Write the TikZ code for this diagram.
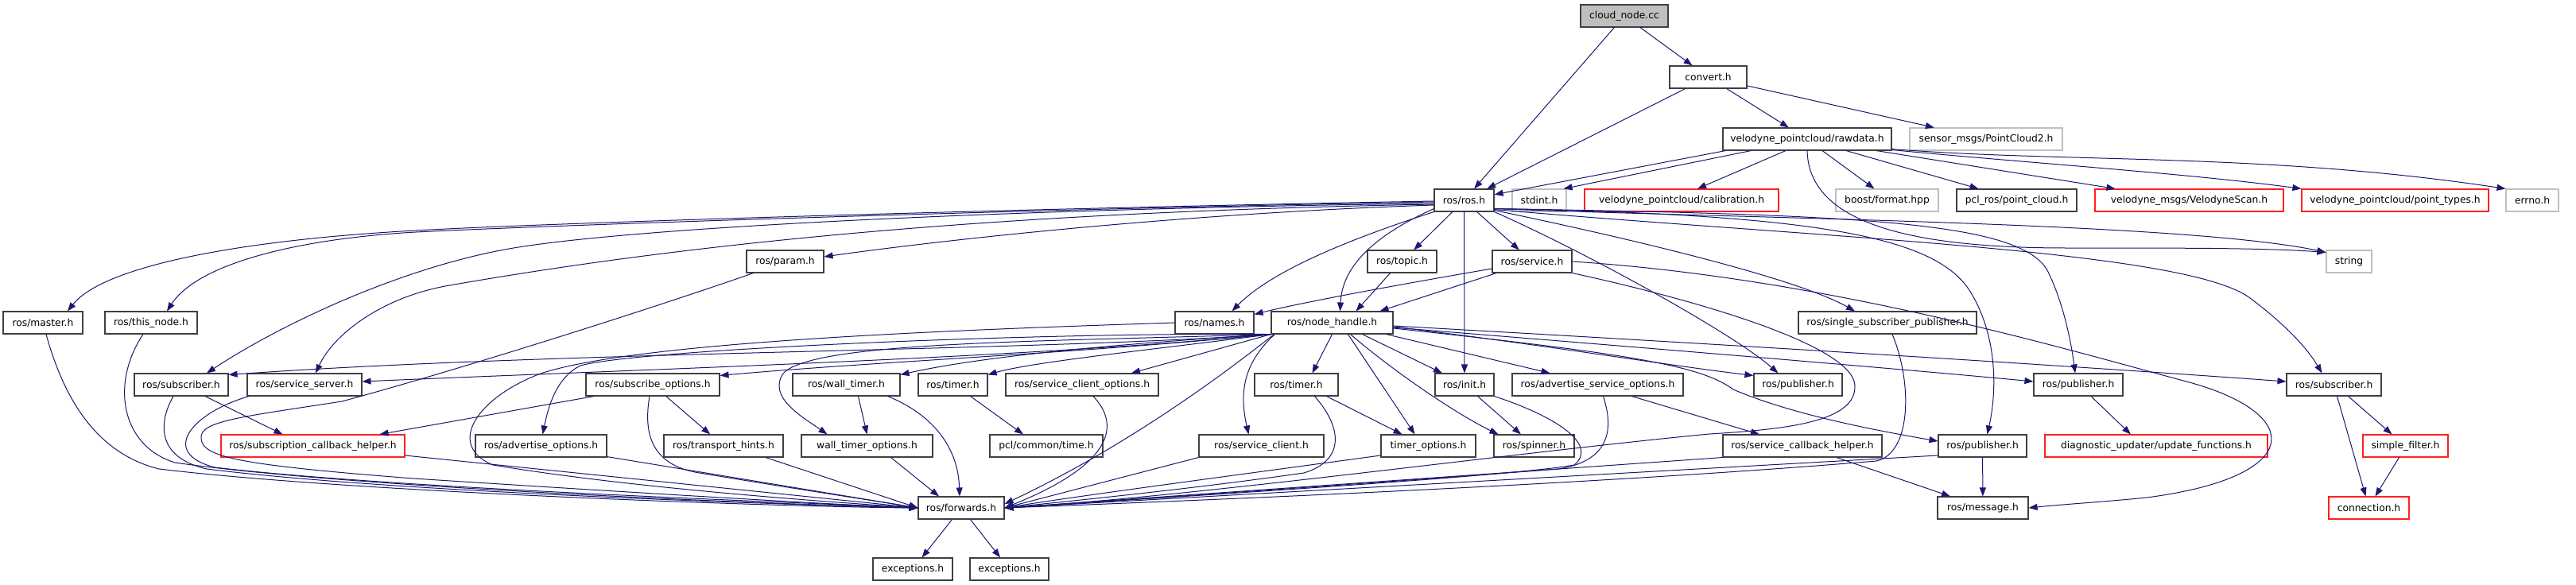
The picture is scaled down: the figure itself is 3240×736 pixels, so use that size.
\documentclass[tikz,border=0pt]{standalone}
\usepackage{fontspec}
\setmainfont{DejaVu Sans}
\usetikzlibrary{arrows.meta,calc}
\definecolor{edgec}{HTML}{191970}
\definecolor{bordk}{HTML}{404040}
\definecolor{bordg}{HTML}{BFBFBF}
\definecolor{bordr}{HTML}{FF2020}
\newcommand{\nodefnt}{\fontsize{12.3}{14}\selectfont}
\tikzset{
  box/.style={draw=bordk, line width=1.1pt, minimum height=28pt, inner sep=0pt, font=\nodefnt, fill=white},
  gbox/.style={box, draw=bordg},
  rbox/.style={box, draw=bordr},
  e/.style={draw=edgec, line width=1pt, -{Triangle[length=11pt,width=8pt]}}
}
\begin{document}
\begin{tikzpicture}[x=1pt,y=-1pt]
\useasboundingbox[fill=white] (0,0) rectangle (3240,736);
% row 0
\node[box, fill=bordg, minimum width=110] (cloud) at (2043,20) {cloud\_node.cc};
% row 1
\node[box, minimum width=97] (convert) at (2148.5,97) {convert.h};
% row 2
\node[box, minimum width=212] (rawdata) at (2273,175) {velodyne\_pointcloud/rawdata.h};
\node[gbox, minimum width=192] (pc2) at (2498,175) {sensor\_msgs/PointCloud2.h};
% row 3
\node[box, minimum width=75] (rosh) at (1841.5,252) {ros/ros.h};
\node[gbox, minimum width=68] (stdint) at (1936,252) {stdint.h};
\node[rbox, minimum width=244] (calib) at (2115,252) {velodyne\_pointcloud/calibration.h};
\node[gbox, minimum width=129] (boost) at (2373.5,252) {boost/format.hpp};
\node[box, minimum width=151] (pclros) at (2536.5,252) {pcl\_ros/point\_cloud.h};
\node[rbox, minimum width=237] (vscan) at (2753.5,252) {velodyne\_msgs/VelodyneScan.h};
\node[rbox, minimum width=235] (ptypes) at (3012.5,252) {velodyne\_pointcloud/point\_types.h};
\node[gbox, minimum width=66] (errno) at (3185,252) {errno.h};
% row 4
\node[box, minimum width=97] (param) at (987.5,329) {ros/param.h};
\node[box, minimum width=87] (topic) at (1763.5,329) {ros/topic.h};
\node[box, minimum width=100] (service) at (1927,329) {ros/service.h};
\node[gbox, minimum width=57] (string) at (2954.5,329) {string};
% row 5
\node[box, minimum width=100] (master) at (54,406) {ros/master.h};
\node[box, minimum width=116] (thisnode) at (190,406) {ros/this\_node.h};
\node[box, minimum width=99] (names) at (1527.5,406) {ros/names.h};
\node[box, minimum width=153] (nh) at (1675.5,406) {ros/node\_handle.h};
\node[box, minimum width=224] (ssp) at (2374,406) {ros/single\_subscriber\_publisher.h};
% row 6
\node[box, minimum width=118] (subL) at (228,484) {ros/subscriber.h};
\node[box, minimum width=144] (srvsrv) at (383,484) {ros/service\_server.h};
\node[box, minimum width=168] (subopt) at (821,484) {ros/subscribe\_options.h};
\node[box, minimum width=135] (wtimer) at (1064.5,484) {ros/wall\_timer.h};
\node[box, minimum width=87] (timerA) at (1198.5,484) {ros/timer.h};
\node[box, minimum width=192] (sco) at (1361,484) {ros/service\_client\_options.h};
\node[box, minimum width=105] (timerB) at (1630.5,484) {ros/timer.h};
\node[box, minimum width=74] (init) at (1842,484) {ros/init.h};
\node[box, minimum width=215] (aso) at (2009.5,484) {ros/advertise\_service\_options.h};
\node[box, minimum width=111] (pubA) at (2261.5,484) {ros/publisher.h};
\node[box, minimum width=112] (pubB) at (2614,484) {ros/publisher.h};
\node[box, minimum width=119] (subR) at (2935.5,484) {ros/subscriber.h};
% row 7
\node[rbox, minimum width=231] (scbh) at (393.5,561) {ros/subscription\_callback\_helper.h};
\node[box, minimum width=165] (advopt) at (680.5,561) {ros/advertise\_options.h};
\node[box, minimum width=150] (thints) at (910,561) {ros/transport\_hints.h};
\node[box, minimum width=165] (wto) at (1090.5,561) {wall\_timer\_options.h};
\node[box, minimum width=142] (pcltime) at (1316,561) {pcl/common/time.h};
\node[box, minimum width=157] (sclient) at (1586.5,561) {ros/service\_client.h};
\node[box, minimum width=119] (topts) at (1796.5,561) {timer\_options.h};
\node[box, minimum width=101] (spinner) at (1929.5,561) {ros/spinner.h};
\node[box, minimum width=200] (srvcbh) at (2267,561) {ros/service\_callback\_helper.h};
\node[box, minimum width=111] (pubC) at (2493.5,561) {ros/publisher.h};
\node[rbox, minimum width=280] (diag) at (2712,561) {diagnostic\_updater/update\_functions.h};
\node[rbox, minimum width=107] (sfilter) at (3025.5,561) {simple\_filter.h};
% row 8
\node[box, minimum width=108] (fwd) at (1209,639) {ros/forwards.h};
\node[box, minimum width=114] (msg) at (2494,639) {ros/message.h};
\node[rbox, minimum width=101] (conn) at (2979.5,639) {connection.h};
% row 9
\node[box, minimum width=100] (exc1) at (1148,716) {exceptions.h};
\node[box, minimum width=99] (exc2) at (1269.5,716) {exceptions.h};

% ---- edges ----
\draw[e] (cloud) -- (convert);
\draw[e] (cloud) -- (rosh);
\draw[e] (convert) -- (rosh);
\draw[e] (convert) -- (rawdata);
\draw[e] (convert) -- (pc2);
% rawdata
\draw[e] ([xshift=4pt]rawdata.south west) -- (rosh);
\draw[e] ([xshift=36pt]rawdata.south west) -- ([xshift=-4pt]stdint.north east);
\draw[e] ([xshift=-27pt]rawdata.south) -- ([xshift=20pt]calib.north);
\draw[e] ([xshift=19pt]rawdata.south) -- ([xshift=-16pt]boost.north);
\draw[e] ([xshift=49pt]rawdata.south) -- ([xshift=-48pt]pclros.north);
\draw[e] ([xshift=87pt]rawdata.south) -- ([xshift=-93pt]vscan.north);
\draw[e] ([yshift=1pt]rawdata.south east) .. controls (2550,205) and (2750,218) .. (ptypes.north west);
\draw[e] ([yshift=2pt]rawdata.south east) .. controls (2600,205) and (2850,192) .. (errno.north west);
\draw[e] (rawdata.south) .. controls (2275,280) and (2400,312) .. (2600,312) .. controls (2750,312) and (2850,312) .. ([yshift=-3pt]string.north west);
% ros.h left
\draw[e] ([yshift=-1pt]rosh.west) .. controls (1300,262) and (700,280) .. (523,290) .. controls (300,302) and (130,335) .. ([xshift=31pt]master.north);
\draw[e] ([yshift=-2pt]rosh.west) .. controls (1300,263) and (700,283) .. (523,292) .. controls (380,300) and (250,330) .. ([xshift=20pt]thisnode.north);
\draw[e] ([yshift=-4pt]rosh.west) .. controls (1300,262) and (800,285) .. (640,313) .. controls (500,338) and (350,410) .. ([xshift=32pt]subL.north);
\draw[e] ([yshift=-5pt]rosh.west) .. controls (1300,266) and (900,300) .. (560,360) .. controls (480,375) and (420,420) .. ([xshift=14pt]srvsrv.north);
\draw[e] ([yshift=-6pt]rosh.west) .. controls (1500,268) and (1200,300) .. ([yshift=6pt]param.east);
% ros.h down
\draw[e] (rosh) -- (topic);
\draw[e] (rosh) -- (service);
\draw[e] ([yshift=4pt]rosh.south west) .. controls (1720,300) and (1688,340) .. ([xshift=10pt]nh.north);
\draw[e] (rosh.south west) .. controls (1700,300) and (1600,340) .. ([xshift=22pt]names.north);
\draw[e] (rosh) -- (init);
% ros.h right
\draw[e] (rosh.south east) .. controls (2000,320) and (2180,420) .. ([xshift=-25pt]pubA.north);
\draw[e] ([yshift=2pt]rosh.south east) .. controls (2050,300) and (2260,350) .. ([xshift=-41pt]ssp.north);
\draw[e] ([yshift=3pt]rosh.south east) .. controls (2300,300) and (2750,315) .. (2830,375) .. controls (2870,405) and (2900,435) .. ([xshift=-15pt]subR.north);
\draw[e] ([yshift=4pt]rosh.south east) .. controls (2200,275) and (2750,280) .. ([yshift=-3pt]string.north west);
\draw[e] ([yshift=4pt]rosh.south east) .. controls (2350,270) and (2540,280) .. (2575,340) .. controls (2595,380) and (2605,430) .. ([xshift=-4pt]pubB.north);
\draw[e] ([yshift=4pt]rosh.south east) .. controls (2300,270) and (2440,300) .. (2480,370) .. controls (2515,430) and (2510,500) .. ([xshift=6pt]pubC.north);
% topic / service
\draw[e] ([xshift=-15pt]topic.south) -- ([xshift=30pt]nh.north);
\draw[e] ([yshift=-9pt]service.west) .. controls (1760,358) and (1640,380) .. ([yshift=-4pt]names.north east);
\draw[e] ([xshift=-45pt]service.south) -- ([xshift=60pt]nh.north);
\draw[e] (service.south east) .. controls (2100,370) and (2330,430) .. (2333,485) .. controls (2335,530) and (2250,540) .. (2150,546) .. controls (1900,570) and (1500,625) .. (fwd.east);
\draw[e] (service.east) .. controls (2300,350) and (2600,440) .. (2750,480) .. controls (2900,520) and (2900,600) .. (2700,626) .. controls (2640,632) and (2600,634) .. (msg.east);
% node_handle
\draw[e] (nh.south west) .. controls (1300,442) and (700,442) .. ([yshift=-2pt]subL.north east);
\draw[e] (nh.south west) .. controls (1300,450) and (800,465) .. ([yshift=4pt]srvsrv.east);
\draw[e] (nh.south west) .. controls (1350,445) and (1100,455) .. ([yshift=-3pt]subopt.north east);
\draw[e] (nh.south west) .. controls (1300,418) and (800,440) .. (730,460) .. controls (700,475) and (690,510) .. ([xshift=2pt]advopt.north);
\draw[e] (nh.south west) .. controls (1450,430) and (1250,445) .. ([yshift=-2pt]wtimer.north east);
\draw[e] (nh.south west) .. controls (1300,430) and (1020,430) .. (985,470) .. controls (965,500) and (1010,525) .. ([xshift=-50pt]wto.north);
\draw[e] (nh.south west) .. controls (1450,440) and (1300,455) .. ([yshift=-2pt]timerA.north east);
\draw[e] (nh.south west) -- ([xshift=62pt]sco.north);
\draw[e] ([xshift=4pt]nh.south west) .. controls (1540,470) and (1420,560) .. ([yshift=5pt]fwd.east);
\draw[e] ([xshift=5pt]nh.south west) .. controls (1560,460) and (1560,500) .. ([xshift=-16pt]sclient.north);
\draw[e] (nh.south) -- ([xshift=20pt]timerB.north);
\draw[e] ([xshift=20pt]nh.south) -- ([xshift=-17pt]topts.north);
\draw[e] ([xshift=23pt]nh.south) .. controls (1750,465) and (1830,520) .. ([xshift=-45pt]spinner.north);
\draw[e] ([xshift=38pt]nh.south) -- ([xshift=-28pt]init.north);
\draw[e] ([xshift=68pt]nh.south) -- ([xshift=-60pt]aso.north);
\draw[e] ([yshift=-5pt]nh.east) .. controls (1950,435) and (2100,460) .. ([yshift=-3pt]pubA.north west);
\draw[e] ([yshift=-6pt]nh.east) .. controls (2100,440) and (2400,465) .. ([yshift=4pt]pubB.west);
\draw[e] ([yshift=-4pt]nh.east) .. controls (2200,435) and (2600,460) .. ([yshift=4pt]subR.west);
\draw[e] ([yshift=-7pt]nh.east) .. controls (2050,445) and (2140,460) .. (2180,490) .. controls (2250,520) and (2350,540) .. ([yshift=6pt]pubC.west);
% row 6 outgoing
\draw[e] ([xshift=43pt]aso.south) -- ([xshift=-54pt]srvcbh.north);
\draw[e] ([xshift=7pt]aso.south) .. controls (2030,540) and (2025,580) .. (1960,590) .. controls (1700,610) and (1400,630) .. (fwd.east);
\draw[e] (init) -- (spinner);
\draw[e] (init.south east) .. controls (1960,525) and (2010,560) .. (1980,585) .. controls (1900,600) and (1400,630) .. (fwd.east);
\draw[e] ([xshift=38pt]timerB.south) -- ([xshift=-33pt]topts.north);
\draw[e] ([xshift=23pt]timerB.south) .. controls (1690,540) and (1690,580) .. (1640,595) .. controls (1500,615) and (1350,630) .. (fwd.east);
\draw[e] ([yshift=-12pt]topts.west) .. controls (1500,605) and (1350,625) .. (fwd.east);
\draw[e] (sclient.south west) -- (fwd.east);
\draw[e] ([xshift=14pt]sco.south) .. controls (1405,530) and (1410,580) .. (fwd.east);
\draw[e] ([xshift=22pt]timerA.south) -- ([xshift=-29pt]pcltime.north);
\draw[e] ([xshift=15pt]wtimer.south) -- (wto.north);
\draw[e] ([xshift=52pt]wtimer.south) .. controls (1170,520) and (1205,560) .. ([xshift=-2pt]fwd.north);
\draw[e] ([xshift=30pt]wto.south) -- ([xshift=-28pt]fwd.north);
\draw[e] (fwd) -- (exc1);
\draw[e] (fwd) -- (exc2);
\draw[e] (subopt) -- (thints);
\draw[e] ([xshift=-74pt]subopt.south) -- ([xshift=84pt]scbh.north);
\draw[e] ([xshift=-4pt]subopt.south) .. controls (810,540) and (815,585) .. (880,595) .. controls (1000,615) and (1100,630) .. (fwd.west);
\draw[e] ([xshift=53pt]thints.south) -- (fwd.west);
\draw[e] ([yshift=1pt]advopt.south east) -- (fwd.west);
\draw[e] ([yshift=-12pt]scbh.east) -- (fwd.west);
\draw[e] ([xshift=30pt]subL.south) -- ([xshift=-38pt]scbh.north);
\draw[e] ([xshift=-10pt]subL.south) .. controls (200,530) and (195,575) .. (260,590) .. controls (500,620) and (1000,635) .. (fwd.west);
\draw[e] ([xshift=-70pt]srvsrv.south) .. controls (240,520) and (200,570) .. (270,588) .. controls (500,615) and (1000,632) .. (fwd.west);
\draw[e] ([xshift=-10pt]thisnode.south) .. controls (140,480) and (150,560) .. (220,582) .. controls (450,615) and (1000,635) .. (fwd.west);
\draw[e] ([xshift=4pt]master.south) .. controls (80,500) and (120,570) .. (200,590) .. controls (450,620) and (1000,638) .. (fwd.west);
\draw[e] ([xshift=-40pt]param.south) .. controls (800,395) and (560,470) .. (430,505) .. controls (300,525) and (250,530) .. (253,552) .. controls (255,575) and (300,585) .. (520,602) .. controls (800,620) and (1050,635) .. (fwd.west);
\draw[e] (names.west) .. controls (1200,415) and (800,430) .. (680,470) .. controls (600,500) and (560,560) .. (620,585) .. controls (800,615) and (1050,632) .. (fwd.west);
% right part
\draw[e] ([xshift=6pt]ssp.south) .. controls (2405,480) and (2405,570) .. (2360,580) .. controls (2000,610) and (1500,630) .. (fwd.east);
\draw[e] (srvcbh.south west) -- (fwd.east);
\draw[e] ([xshift=43pt]srvcbh.south) -- ([xshift=-41pt]msg.north);
\draw[e] ([yshift=-12pt]pubC.west) -- (fwd.east);
\draw[e] (pubC) -- (msg);
\draw[e] ([xshift=16pt]pubB.south) -- ([xshift=-32pt]diag.north);
\draw[e] ([xshift=4pt]subR.south) -- ([xshift=-4pt]conn.north);
\draw[e] ([xshift=18pt]subR.south) -- ([xshift=-17pt]sfilter.north);
\draw[e] ([xshift=-8pt]sfilter.south) -- ([xshift=8pt]conn.north);
\end{tikzpicture}
\end{document}
